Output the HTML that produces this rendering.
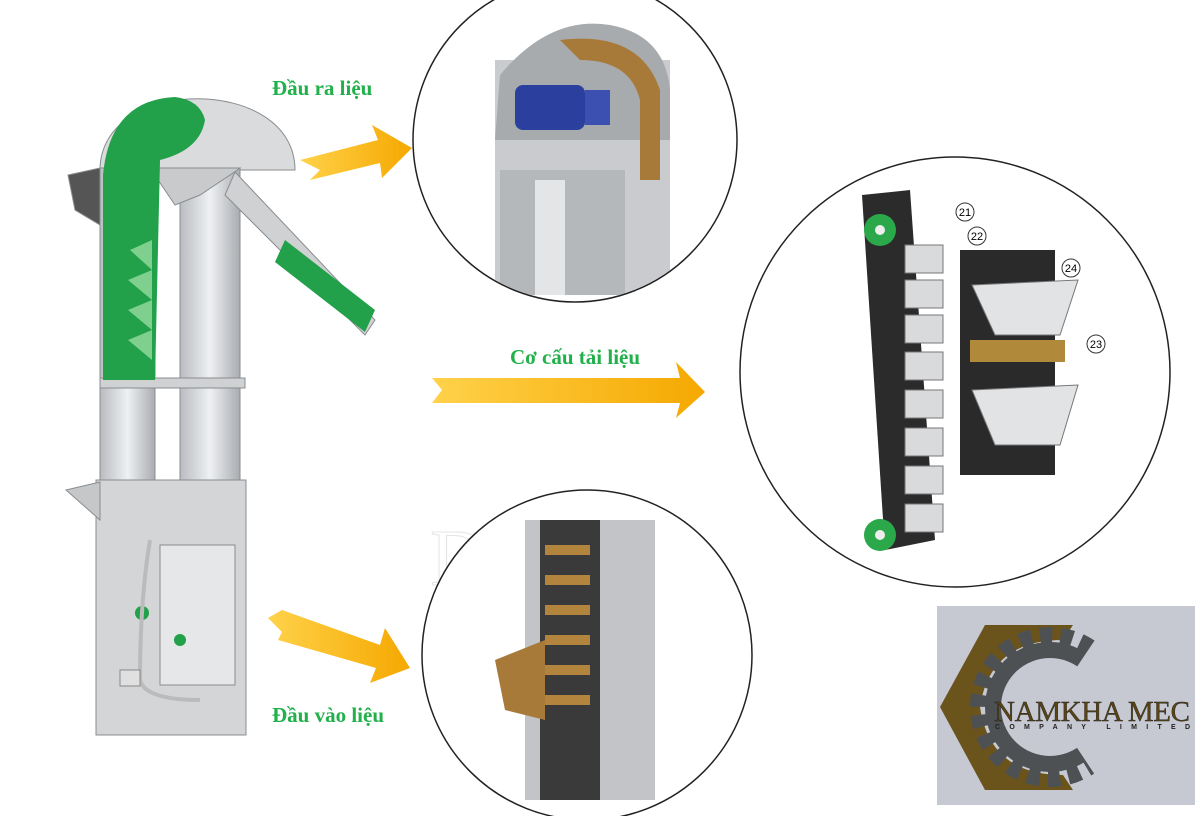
<!DOCTYPE html>
<html><head><meta charset="utf-8"><style>
html,body{margin:0;padding:0;background:#fff;width:1198px;height:816px;overflow:hidden}
svg{display:block}
.lbl{font-family:"Liberation Serif",serif;font-weight:bold;fill:#22b04b;font-size:21px}
</style></head><body>
<svg width="1198" height="816" viewBox="0 0 1198 816">
<defs>
<linearGradient id="g1" x1="0" x2="1"><stop offset="0" stop-color="#b9bcc0"/><stop offset="0.5" stop-color="#eef0f2"/><stop offset="1" stop-color="#a9acb0"/></linearGradient>
<linearGradient id="ar" x1="0" x2="1"><stop offset="0" stop-color="#ffd24a"/><stop offset="1" stop-color="#f5a800"/></linearGradient>
<clipPath id="c1"><circle cx="575" cy="140" r="161"/></clipPath>
<clipPath id="c2"><circle cx="955" cy="372" r="214"/></clipPath>
<clipPath id="c3"><circle cx="587" cy="655" r="164"/></clipPath>
</defs>
<text x="430" y="585" font-family="Liberation Serif,serif" font-size="80" fill="none" stroke="#e4e4e4" letter-spacing="6">DONG</text>

<!-- Elevator -->
<g stroke="#8a8d90" stroke-width="1">
<path d="M100,170 C100,75 295,75 295,170 Z" fill="#d9dbdd"/>
<rect x="100" y="168" width="55" height="567" fill="url(#g1)"/>
<rect x="180" y="168" width="60" height="567" fill="url(#g1)"/>
<rect x="100" y="378" width="145" height="10" fill="#cfd1d3"/>
<rect x="96" y="480" width="150" height="255" fill="#d3d5d7"/>
<path d="M66,490 L100,482 L100,520 Z" fill="#c5c7c9"/>
<rect x="160" y="545" width="75" height="140" fill="#e6e7e8"/>
<path d="M68,175 L100,168 L100,225 L75,210 Z" fill="#555"/>
<path d="M150,168 L240,168 L230,175 L200,195 L175,205 Z" fill="#c8cacc"/>
<path d="M235,172 L375,320 L365,335 L225,195 Z" fill="#cfd1d3"/>
</g>
<path d="M103,380 L103,175 Q110,100 175,97 Q200,100 205,120 Q200,150 160,160 L155,380 Z" fill="#22a04a"/>
<path d="M285,240 L375,310 L365,332 L275,262 Z" fill="#22a04a"/>
<g fill="#7fcf8e">
<path d="M130,250 L152,240 L152,270 Z"/><path d="M128,280 L152,270 L152,300 Z"/><path d="M128,310 L152,300 L152,330 Z"/><path d="M128,340 L152,330 L152,360 Z"/>
</g>
<circle cx="142" cy="613" r="7" fill="#22a04a"/>
<circle cx="180" cy="640" r="6" fill="#22a04a"/>
<path d="M150,540 Q140,600 140,680 Q145,700 200,700" fill="none" stroke="#bbb" stroke-width="4"/>
<rect x="120" y="670" width="20" height="16" fill="#e0e0e0" stroke="#888"/>

<!-- arrows -->
<polygon points="300,160 378,140 372,125 412,148 382,178 380,163 310,180 320,170" fill="url(#ar)"/>
<polygon points="432,378 680,378 676,362 705,392 676,418 680,403 432,403 442,390" fill="url(#ar)"/>
<polygon points="268,618 282,610 380,645 385,628 410,668 370,683 376,668 278,640 282,632" fill="url(#ar)"/>

<text class="lbl" x="272" y="95">Đầu ra liệu</text>
<text class="lbl" x="510" y="364">Cơ cấu tải liệu</text>
<text class="lbl" x="272" y="722">Đầu vào liệu</text>

<!-- circle 1 -->
<circle cx="575" cy="140" r="162" fill="#fff" stroke="#222" stroke-width="1.5"/>
<g clip-path="url(#c1)">
<rect x="495" y="60" width="175" height="235" fill="#c9cbce"/>
<rect x="500" y="170" width="125" height="125" fill="#b5b8bb"/>
<rect x="535" y="180" width="30" height="115" fill="#e3e5e7"/>
<path d="M500,75 Q550,15 610,25 Q665,35 670,90 L670,140 L495,140 Z" fill="#a8abae"/>
<path d="M560,40 Q640,30 660,90 L660,180 L640,180 L640,100 Q630,60 580,60 Z" fill="#a87a3a"/>
<rect x="515" y="85" width="70" height="45" rx="8" fill="#2b3f9e"/>
<rect x="585" y="90" width="25" height="35" fill="#3b50b0"/>
</g>
<!-- circle 2 -->
<circle cx="955" cy="372" r="215" fill="#fff" stroke="#222" stroke-width="1.5"/>
<g clip-path="url(#c2)">
<path d="M862,195 L910,190 L935,540 L885,550 Z" fill="#2b2b2b"/>
<circle cx="880" cy="230" r="16" fill="#2aa84a"/><circle cx="880" cy="535" r="16" fill="#2aa84a"/>
<circle cx="880" cy="230" r="5" fill="#eee"/><circle cx="880" cy="535" r="5" fill="#eee"/>
<g fill="#d9dadc" stroke="#777">
<rect x="905" y="245" width="38" height="28"/><rect x="905" y="280" width="38" height="28"/><rect x="905" y="315" width="38" height="28"/><rect x="905" y="352" width="38" height="28"/><rect x="905" y="390" width="38" height="28"/><rect x="905" y="428" width="38" height="28"/><rect x="905" y="466" width="38" height="28"/><rect x="905" y="504" width="38" height="28"/>
</g>
<rect x="960" y="250" width="95" height="225" fill="#2a2a2a"/>
<path d="M972,285 L1078,280 L1060,335 L995,335 Z" fill="#e2e3e5" stroke="#777"/>
<path d="M972,390 L1078,385 L1060,445 L995,445 Z" fill="#e2e3e5" stroke="#777"/>
<rect x="970" y="340" width="95" height="22" fill="#b08a3a"/>
</g>
<g font-family="Liberation Sans,sans-serif" font-size="11" text-anchor="middle">
<circle cx="965" cy="212" r="9" fill="#fff" stroke="#333"/><text x="965" y="216">21</text>
<circle cx="977" cy="236" r="9" fill="#fff" stroke="#333"/><text x="977" y="240">22</text>
<circle cx="1071" cy="268" r="9" fill="#fff" stroke="#333"/><text x="1071" y="272">24</text>
<circle cx="1096" cy="344" r="9" fill="#fff" stroke="#333"/><text x="1096" y="348">23</text>
</g>
<!-- circle 3 -->
<circle cx="587" cy="655" r="165" fill="#fff" stroke="#222" stroke-width="1.5"/>
<g clip-path="url(#c3)">
<rect x="525" y="520" width="130" height="280" fill="#c2c4c7"/>
<rect x="540" y="520" width="60" height="280" fill="#3a3a3a"/>
<g fill="#b3843e"><rect x="545" y="545" width="45" height="10"/><rect x="545" y="575" width="45" height="10"/><rect x="545" y="605" width="45" height="10"/><rect x="545" y="635" width="45" height="10"/><rect x="545" y="665" width="45" height="10"/><rect x="545" y="695" width="45" height="10"/></g>
<path d="M495,660 L545,640 L545,720 L505,710 Z" fill="#a87a3a"/>
</g>

<!-- logo -->
<rect x="937" y="606" width="258" height="199" fill="#c6c9d2"/>
<path d="M985,625 L1073,625 L1063,640 Q990,640 980,707 Q990,775 1063,775 L1073,790 L985,790 L940,707 Z" fill="#6b531c"/>
<circle cx="1050" cy="707" r="70" fill="none" stroke="#4d5153" stroke-width="20" stroke-dasharray="12 8"/>
<circle cx="1050" cy="707" r="57" fill="none" stroke="#4d5153" stroke-width="16"/>
<polygon points="1050,707 1105,625 1195,625 1195,790 1105,790" fill="#c6c9d2"/>
<rect x="1020" y="690" width="175" height="40" fill="#c6c9d2"/>
<text x="994" y="721" font-family="Liberation Serif,serif" font-size="29" fill="#5a4416" stroke="#222" stroke-width="0.4" textLength="196">NAMKHA MEC</text>
<text x="995" y="729" font-family="Liberation Sans,sans-serif" font-size="7" font-weight="bold" fill="#222" textLength="195">COMPANY LIMITED</text>
</svg>
</body></html>
